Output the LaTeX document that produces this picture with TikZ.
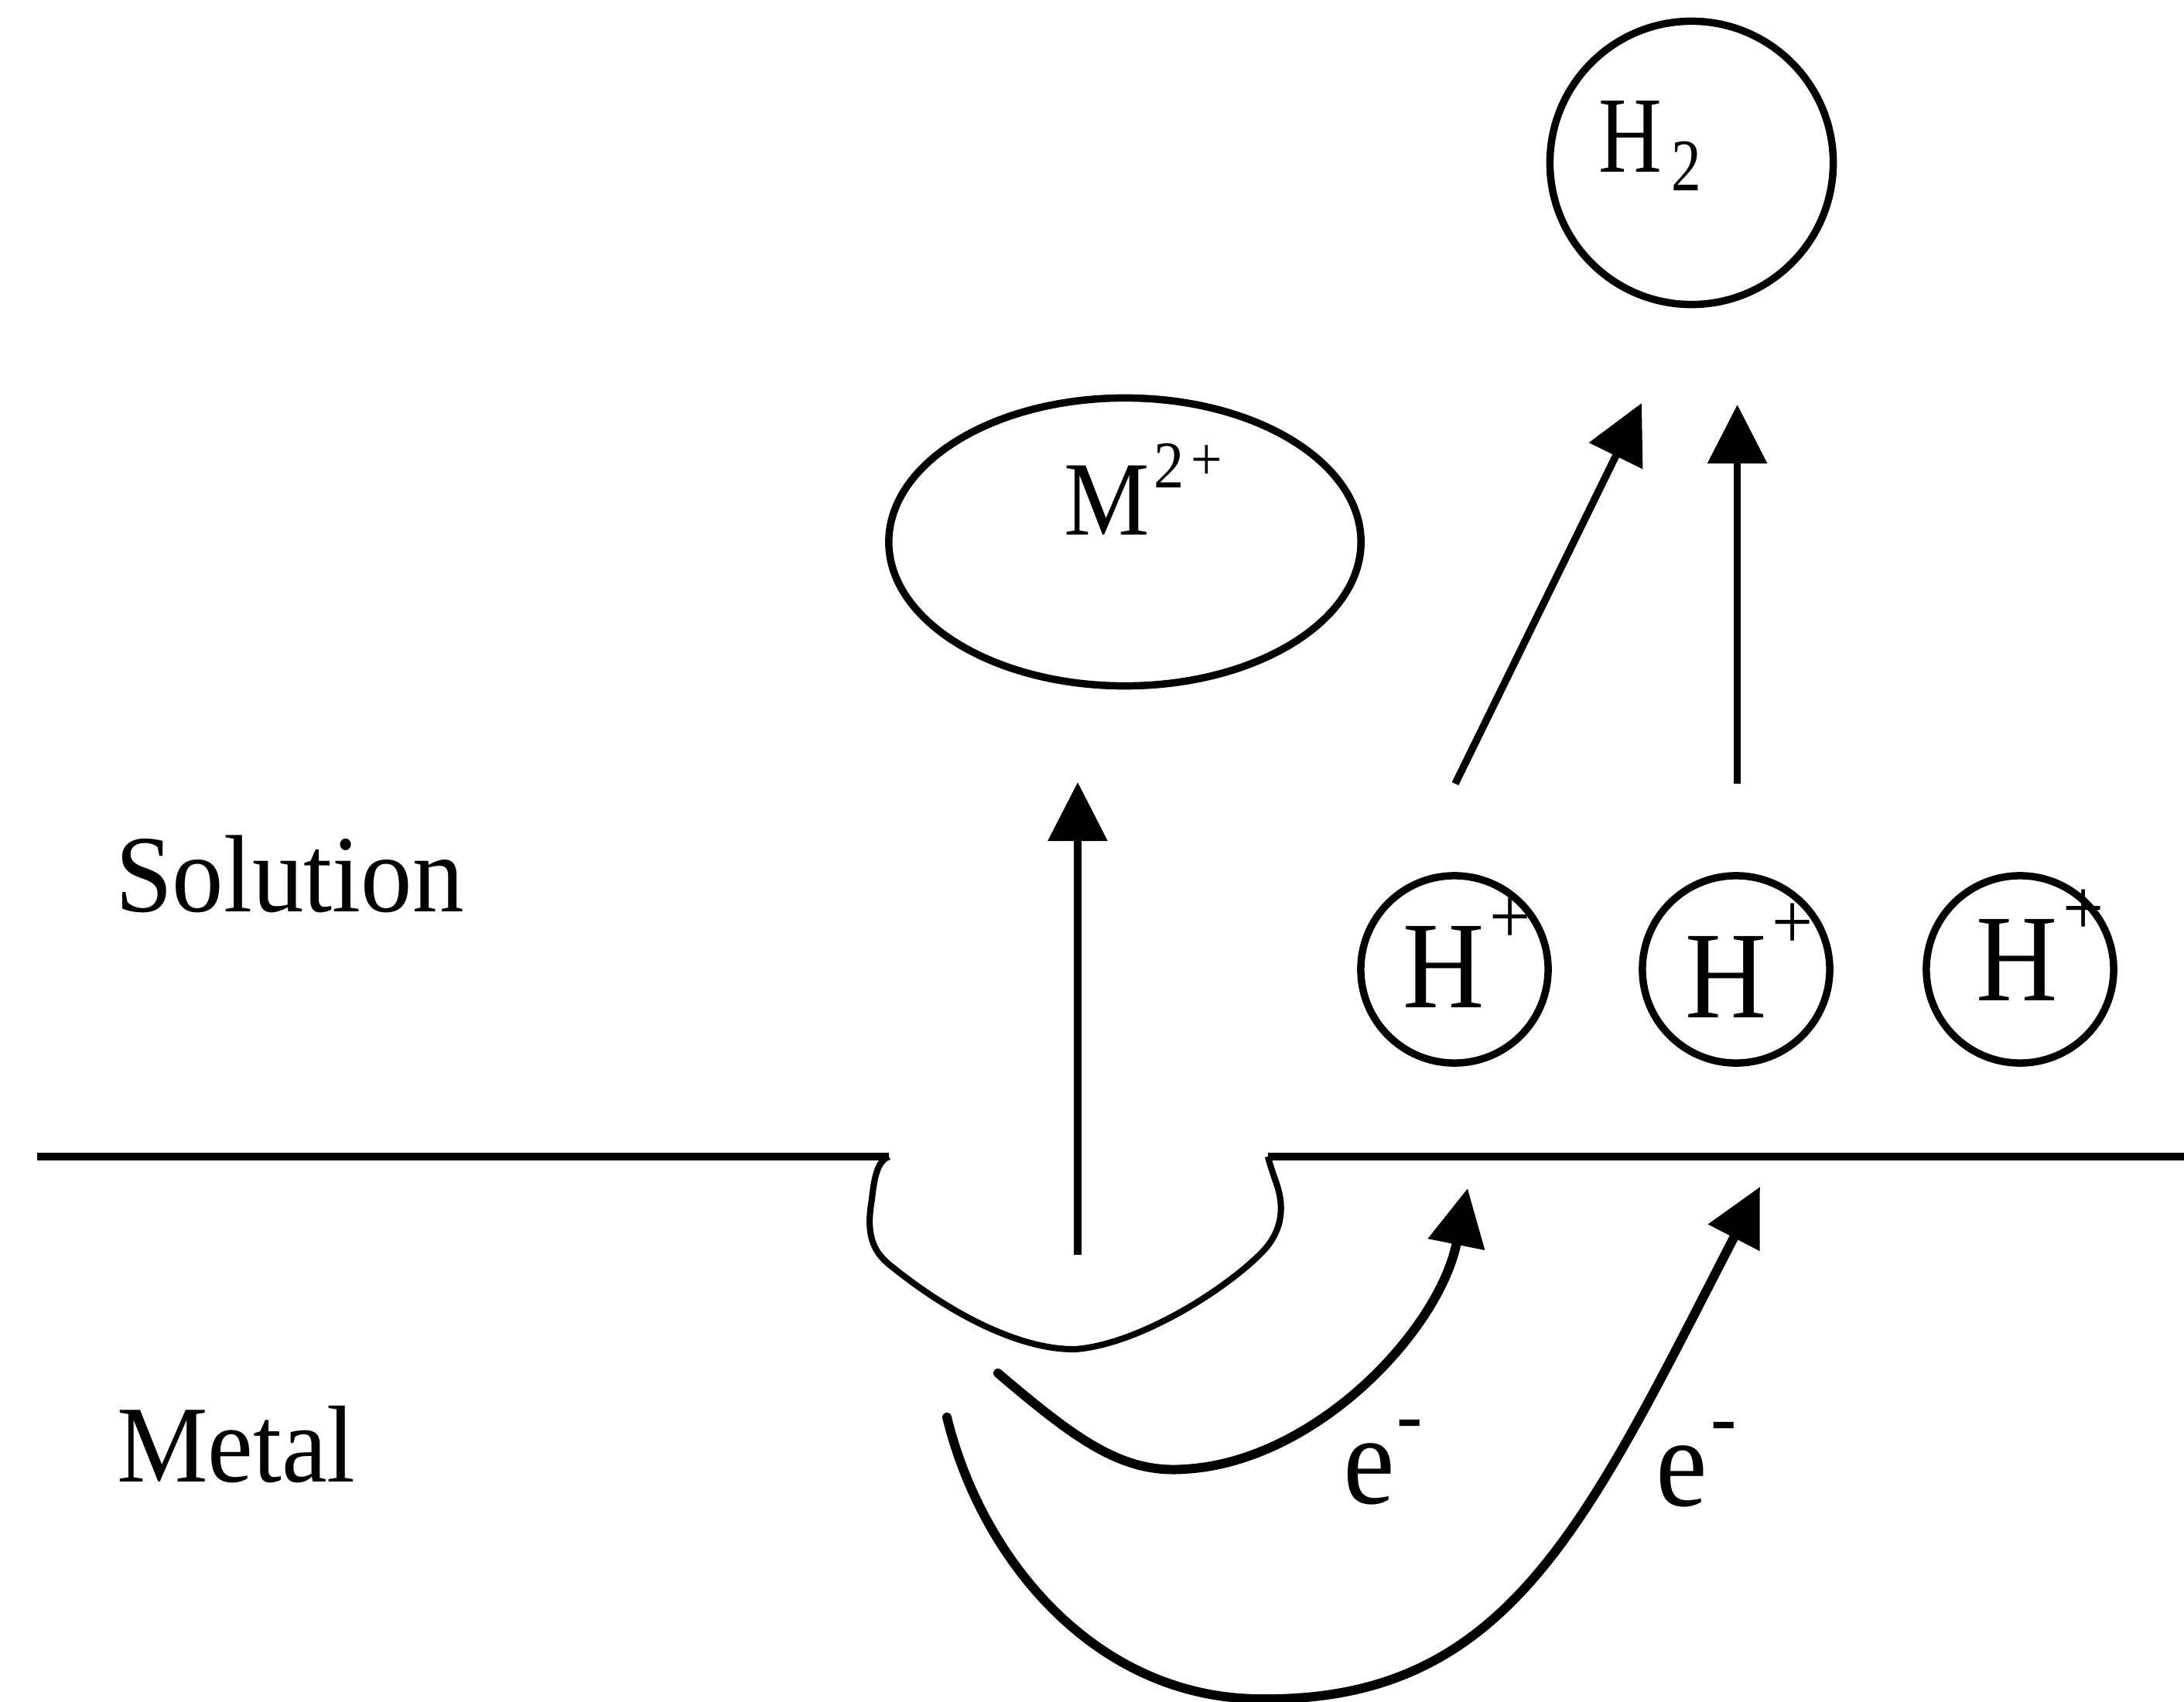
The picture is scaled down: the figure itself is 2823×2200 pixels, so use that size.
\documentclass[tikz,border=0pt]{standalone}
\usepackage{fontspec}
\setmainfont{Liberation Serif}
\usepackage{graphicx}
\usetikzlibrary{arrows.meta,shapes.geometric}
\newcommand{\vsc}[2]{\scalebox{1}[#1]{#2}}
\newcommand{\fsz}[1]{\fontsize{#1}{#1}\selectfont}
\begin{document}
\begin{tikzpicture}[x=0.01cm,y=-0.01cm,
  ln/.style={line width=2.7pt},
  pitline/.style={line width=2.3pt, line join=round},
  arr/.style={line width=2.7pt, -{Triangle[length=0.76cm,width=0.75cm]}},
  earr/.style={line width=3.4pt, line cap=round, -{Triangle[length=0.74cm,width=0.72cm]}},
  lbl/.style={anchor=base west, inner sep=0pt, outer sep=0pt},
  ion/.style={circle, draw, line width=2.7pt, minimum size=2.42cm, inner sep=0pt},
]
\useasboundingbox (0,0) rectangle (2823,2200);

% ions and molecules
\node[ion] (h1) at (1880,1253) {};
\node[ion] (h2) at (2244,1253) {};
\node[ion] (h3) at (2611,1253) {};
\node[ion, minimum size=3.66cm] (hh) at (2186.5,210.5) {};
\node[ellipse, draw, line width=2.7pt, minimum width=6.1cm, minimum height=3.72cm, inner sep=0pt] (mion) at (1454,700.5) {};

% labels
\node[lbl] (soltxt) at (149,1178) {\vsc{1.07}{\fsz{37.8}Solution}};
\node[lbl] (mettxt) at (151,1915) {\vsc{1.07}{\fsz{37.6}Metal}};
\node[lbl] (mtxt) at (1375,691) {\vsc{1.1}{\fsz{35.3}M\kern0.06cm\raisebox{0.55cm}{\fsz{22.3}2}\kern0.09cm\raisebox{0.64cm}{\fsz{20.5}+}}};
\node[lbl] (hhtxt) at (2066,223) {\vsc{1.24}{\fsz{32.2}H\kern0.13cm\raisebox{-0.19cm}{\fsz{22}2}}};
\node[lbl] (h1txt) at (1813,1302) {\vsc{1.1}{\fsz{41.5}H\kern0.066cm\raisebox{0.75cm}{\fsz{26.8}+}}};
\node[lbl] (h2txt) at (2178.5,1315) {\vsc{1.1}{\fsz{41.5}H\kern0.07cm\raisebox{0.805cm}{\fsz{26.8}+}}};
\node[lbl] (h3txt) at (2554,1293) {\vsc{1.1}{\fsz{41.5}H\kern0.07cm\raisebox{0.77cm}{\fsz{26.8}+}}};
\node[lbl] (e1) at (1736,1943) {\vsc{1.1}{\fsz{42.7}e\kern0.025cm\raisebox{0.705cm}{\fsz{28.5}-}}};
\node[lbl] (e2) at (2140,1946) {\vsc{1.1}{\fsz{42.7}e\kern0.045cm\raisebox{0.705cm}{\fsz{28.5}-}}};

% metal surface with pit
\coordinate (sl) at (48,1495);
\coordinate (pl) at (1149,1495);
\coordinate (pr) at (1639,1495);
\coordinate (sr) at (2823,1495);
\draw[ln] (sl) -- (pl);
\draw[ln] (pr) -- (sr);
\draw[pitline] (pl) .. controls (1135,1500) and (1130,1520) .. (1127,1550)
  .. controls (1120,1590) and (1125,1615) .. (1150,1635)
  .. controls (1230,1700) and (1320,1745) .. (1390,1744)
  .. controls (1470,1738) and (1580,1670) .. (1630,1620)
  .. controls (1655,1595) and (1662,1565) .. (1650,1530)
  .. controls (1643,1510) and (1640,1500) .. (pr);

% straight arrows
\coordinate (ma0) at (1393,1622);
\coordinate (ma1) at (1393,1011);
\draw[arr] (ma0) -- (ma1);
\coordinate (da0) at (1881,1013);
\coordinate (da1) at (2122,521);
\draw[arr] (da0) -- (da1);
\coordinate (va0) at (2245.6,1013);
\coordinate (va1) at (2245.6,523);
\draw[arr] (va0) -- (va1);

% electron paths
\coordinate (ea0) at (1290,1775);
\coordinate (eam) at (1531,1899);
\coordinate (ea1) at (1897,1536);
\draw[earr] (ea0) .. controls (1390,1860) and (1450,1905) .. (eam)
  .. controls (1700,1890) and (1860,1720) .. (ea1);
\coordinate (eb0) at (1224,1832);
\coordinate (ebm) at (1630,2196);
\coordinate (eb1) at (2275,1534);
\draw[earr] (eb0) .. controls (1270,2020) and (1420,2196) .. (ebm)
  .. controls (1950,2200) and (2050,1970) .. (eb1);
\end{tikzpicture}
\end{document}
